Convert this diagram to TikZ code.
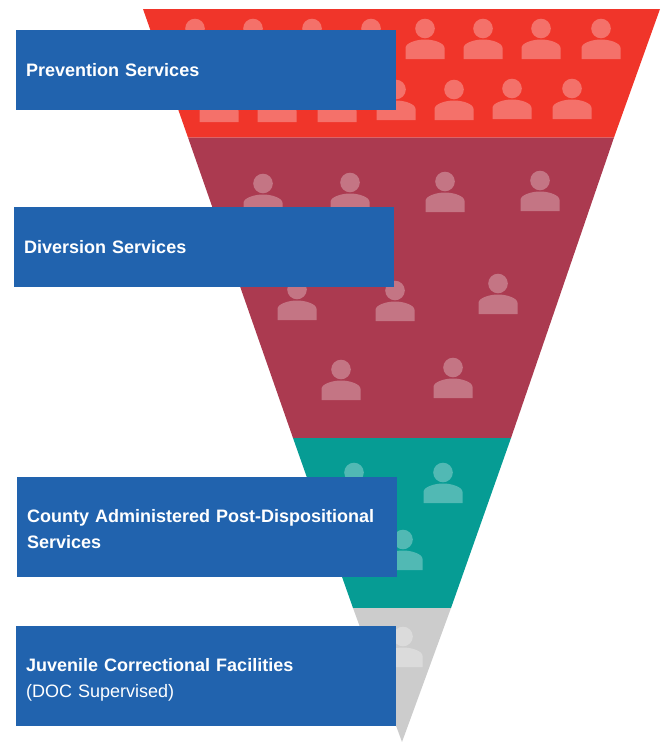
\documentclass[tikz,border=0pt]{standalone}
\usepackage{fontspec}
\setmainfont{Liberation Sans}
\usetikzlibrary{positioning}
\definecolor{bandred}{HTML}{F0352A}
\definecolor{bandmaroon}{HTML}{AB3A50}
\definecolor{bandteal}{HTML}{069C94}
\definecolor{bandgray}{HTML}{CCCCCC}
\definecolor{boxblue}{HTML}{2163AE}
\tikzset{
	%Define style for the label boxes
	lblbox/.style={
		rectangle,
		fill=boxblue,
		text=white,
		minimum width=380pt,
		inner xsep=10pt,
		inner ysep=0pt,
		align=left,
		anchor=north west,
		text width=360pt,
		font=\fontsize{18}{26}\selectfont\bfseries},
	% Define style for the people
	pers/.style={fill=white, fill opacity=0.3},
	person/.pic={
		\fill[pers] (0,-30.5) circle (9.8);
		\fill[pers] (-19.5,0) -- (-19.5,-11) .. controls (-19.5,-16) and (-9,-19.5) .. (0,-19.5)
			.. controls (9,-19.5) and (19.5,-16) .. (19.5,-11) -- (19.5,0) -- cycle;
	}
}
\begin{document}
\begin{tikzpicture}[x=1pt, y=-1pt]
	\useasboundingbox (0,0) rectangle (665,742);

	% funnel bands
	\fill[bandred] (143,9) -- (660,9) -- (614,137.5) -- (188,137.5) -- cycle;
	\fill[bandmaroon] (188,137.5) -- (614,137.5) -- (511,438) -- (293,438) -- cycle;
	\fill[bandteal] (293,438) -- (511,438) -- (451,608) -- (353,608) -- cycle;
	\fill[bandgray] (353,608) -- (451,608) -- (402,742) -- cycle;

	% people, placed at the middle of their feet
	\foreach \px/\py in {195/59, 253/59, 312/59, 371/59, 425/59, 483/59, 541/59, 601/59,
		219/122, 277/122, 337/122, 396/120, 454/120, 512/119, 572/119,
		263/214, 350/213, 445/212, 540/211,
		297/320, 395/321, 498/314, 341/400, 453/398,
		354/503, 443/503, 403/570, 403/667}
		\pic at (\px,\py) {person};

	% label boxes
	\node[lblbox, minimum height=80pt] (prevention) at (16,30) {Prevention Services};
	\node[lblbox, minimum height=80pt] (diversion) at (14,207) {Diversion Services};
	\node[lblbox, minimum height=100pt] (county) at (17,477) {\rule{0pt}{16pt}County Administered Post-Dispositional\\Services};
	\node[lblbox, minimum height=100pt] (juvenile) at (16,626) {\rule{0pt}{20pt}Juvenile Correctional Facilities\\{\mdseries (DOC Supervised)}};
\end{tikzpicture}
\end{document}
